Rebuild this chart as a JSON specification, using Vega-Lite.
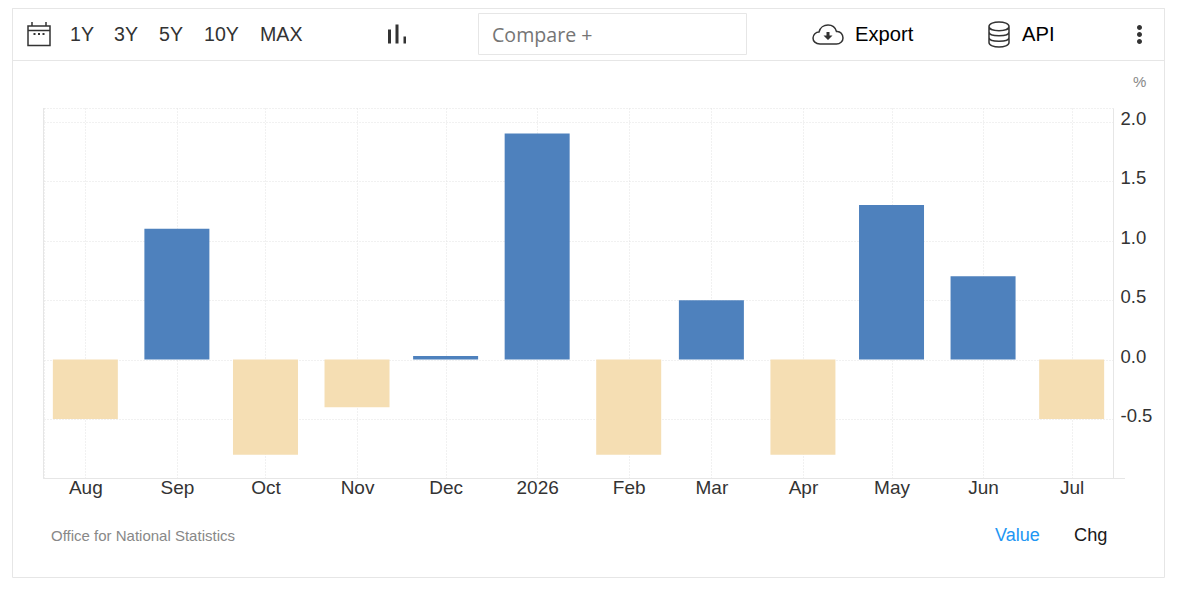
{
  "$schema": "https://vega.github.io/schema/vega-lite/v6.json",
  "width": 1069,
  "height": 370,
  "padding": {"left": 44, "top": 108, "right": 66, "bottom": 117},
  "autosize": {"type": "none"},
  "background": "white",
  "datasets": {
    "chg": [
      {"month": "2025-08-01T00:00:00", "value": -0.5},
      {"month": "2025-09-01T00:00:00", "value": 1.1},
      {"month": "2025-10-01T00:00:00", "value": -0.8},
      {"month": "2025-11-01T00:00:00", "value": -0.4},
      {"month": "2025-12-01T00:00:00", "value": 0.03},
      {"month": "2026-01-01T00:00:00", "value": 1.9},
      {"month": "2026-02-01T00:00:00", "value": -0.8},
      {"month": "2026-03-01T00:00:00", "value": 0.5},
      {"month": "2026-04-01T00:00:00", "value": -0.8},
      {"month": "2026-05-01T00:00:00", "value": 1.3},
      {"month": "2026-06-01T00:00:00", "value": 0.7},
      {"month": "2026-07-01T00:00:00", "value": -0.5}
    ],
    "labels": [
      {"label": "1Y", "slot": 1, "zone": 0, "kind": "range"},
      {"label": "3Y", "slot": 2, "zone": 0, "kind": "range"},
      {"label": "5Y", "slot": 3, "zone": 0, "kind": "range"},
      {"label": "10Y", "slot": 4, "zone": 0, "kind": "range"},
      {"label": "MAX", "slot": 5, "zone": 0, "kind": "range"},
      {"label": "Export", "slot": 6, "zone": 0, "kind": "action"},
      {"label": "Value", "slot": 7, "zone": 1, "kind": "link"},
      {"label": "API", "slot": 8, "zone": 0, "kind": "action"},
      {"label": "Chg", "slot": 9, "zone": 1, "kind": "chg"}
    ],
    "notes": [
      {"label": "Office for National Statistics", "slot": 0, "zone": 1},
      {"label": "%", "slot": 1, "zone": 0}
    ],
    "boxes": [
      {"l": 0, "r": 5, "t": 0, "b": 6},
      {"l": 0, "r": 5, "t": 0, "b": 3},
      {"l": 2, "r": 3, "t": 1, "b": 2},
      {"l": 1, "r": 1, "t": 4, "b": 5},
      {"l": 1, "r": 4, "t": 5, "b": 5}
    ],
    "lineIcons": [
      {"icon": "calendar", "slot": 0},
      {"icon": "cloud", "slot": 1},
      {"icon": "database", "slot": 2}
    ],
    "solidIcons": [
      {"icon": "calendarDots", "slot": 0},
      {"icon": "bars", "slot": 1},
      {"icon": "cloudArrow", "slot": 2},
      {"icon": "more", "slot": 3}
    ]
  },
  "resolve": {"scale": {"x": "independent", "y": "independent", "color": "independent", "shape": "independent", "size": "independent"}},
  "layer": [
    {
      "data": {"name": "boxes"},
      "mark": {"type": "rect", "fill": null, "stroke": "#e6e6e6", "strokeWidth": 1},
      "encoding": {
        "x": {"field": "l", "type": "quantitative", "axis": null, "scale": {"domain": [0, 1, 2, 3, 4, 5], "range": [-31.5, -0.5, 434.5, 702.5, 1081, 1120.5]}},
        "x2": {"field": "r"},
        "y": {"field": "t", "type": "quantitative", "axis": null, "scale": {"domain": [0, 1, 2, 3, 4, 5, 6], "range": [-99.5, -94.5, -53.5, -47.5, 0, 370.5, 469.5]}},
        "y2": {"field": "b"}
      }
    },
    {
      "data": {"name": "chg"},
      "mark": {"type": "bar", "size": 65},
      "encoding": {
        "x": {
          "field": "month",
          "type": "temporal",
          "scale": {"domain": ["2025-07-18T00:00:00", "2026-07-15T00:00:00"], "padding": 0},
          "axis": {
            "values": ["2025-08-01T00:00:00", "2025-09-01T00:00:00", "2025-10-01T00:00:00", "2025-11-01T00:00:00", "2025-12-01T00:00:00", "2026-01-01T00:00:00", "2026-02-01T00:00:00", "2026-03-01T00:00:00", "2026-04-01T00:00:00", "2026-05-01T00:00:00", "2026-06-01T00:00:00", "2026-07-01T00:00:00"],
            "labelExpr": "month(datum.value) == 0 ? timeFormat(datum.value, '%Y') : timeFormat(datum.value, '%b')",
            "title": null,
            "ticks": false,
            "labelFont": "Liberation Sans",
            "labelFontSize": 19,
            "labelColor": "#333333",
            "labelPadding": 0.5,
            "labelFlush": false,
            "labelOverlap": false,
            "domain": false,
            "grid": true,
            "gridColor": "#e2e2e2",
            "gridDash": [1, 2]
          }
        },
        "y": {
          "field": "value",
          "type": "quantitative",
          "scale": {"domain": [-0.995, 2.115], "nice": false},
          "axis": {
            "orient": "right",
            "values": [-0.5, 0, 0.5, 1, 1.5, 2],
            "labelExpr": "replace(format(datum.value, '.1f'), '\u2212', '-')",
            "title": null,
            "ticks": false,
            "labelFont": "Liberation Sans",
            "labelFontSize": 18.5,
            "labelColor": "#333333",
            "labelPadding": 7,
            "labelOffset": -3.5,
            "domainColor": "#e6e6e6",
            "grid": true,
            "gridColor": "#e2e2e2",
            "gridDash": [1, 2]
          }
        },
        "color": {
          "field": "value",
          "type": "quantitative",
          "legend": null,
          "scale": {"type": "threshold", "domain": [0], "range": ["#f5deb3", "#4e81bd"]}
        }
      }
    },
    {
      "data": {"name": "labels"},
      "mark": {"type": "text", "align": "left", "baseline": "middle", "font": "Liberation Sans"},
      "encoding": {
        "text": {"field": "label"},
        "x": {"field": "slot", "type": "quantitative", "axis": null, "scale": {"domain": [1, 2, 3, 4, 5, 6, 7, 8, 9], "range": [26, 70, 115, 160, 216, 811, 951, 978, 1030]}},
        "y": {"field": "zone", "type": "quantitative", "axis": null, "scale": {"domain": [0, 1], "range": [-73, 428]}},
        "color": {"field": "kind", "type": "nominal", "legend": null, "scale": {"domain": ["range", "action", "link", "chg"], "range": ["#333333", "#000000", "#2196f3", "#1a1a1a"]}},
        "size": {"field": "kind", "type": "nominal", "legend": null, "scale": {"type": "ordinal", "domain": ["range", "action", "link", "chg"], "range": [19.6, 20.2, 18, 18.2]}}
      }
    },
    {
      "data": {"values": [{"label": "Compare +", "slot": 0}]},
      "mark": {"type": "text", "align": "left", "baseline": "middle", "font": "Open Sans", "fontSize": 19.6, "color": "#757575"},
      "encoding": {
        "text": {"field": "label"},
        "x": {"field": "slot", "type": "quantitative", "axis": null, "scale": {"domain": [0, 1], "range": [448, 449]}},
        "y": {"field": "slot", "type": "quantitative", "axis": null, "scale": {"domain": [0, 1], "range": [-72.5, -71.5]}}
      }
    },
    {
      "data": {"name": "notes"},
      "mark": {"type": "text", "align": "left", "baseline": "middle", "font": "Liberation Sans", "fontSize": 15, "color": "#888888"},
      "encoding": {
        "text": {"field": "label"},
        "x": {"field": "slot", "type": "quantitative", "axis": null, "scale": {"domain": [0, 1], "range": [7, 1089]}},
        "y": {"field": "zone", "type": "quantitative", "axis": null, "scale": {"domain": [0, 1], "range": [-26, 428]}}
      }
    },
    {
      "data": {"name": "lineIcons"},
      "mark": {"type": "point", "filled": false, "stroke": "#333333", "strokeWidth": 1.5, "opacity": 1, "size": 4},
      "encoding": {
        "x": {"field": "slot", "type": "quantitative", "axis": null, "scale": {"domain": [0, 1, 2], "range": [-5, 784, 955]}},
        "y": {"value": -73.5},
        "shape": {
          "field": "icon",
          "type": "nominal",
          "legend": null,
          "scale": {
            "domain": ["calendar", "cloud", "database"],
            "range": [
              "M-11-8.5H11V11H-11ZM-11-4H11M-7-12.5V-8.5M7-12.5V-8.5",
              "M-8 9.5C-12.5 9.5 -15 6.5 -15 3.5C-15 0 -12 -2.5 -9 -2.5C-8 -7 -4 -9.5 0 -9.5C4.5 -9.5 7.5 -6.5 8.5 -3C12.5 -3.5 15 0 15 3.5C15 7 12 9.5 8.5 9.5Z",
              "M-10 -8C-10 -14 10 -14 10 -8C10 -2.5 -10 -2.5 -10 -8ZM-10 -8V8C-10 14 10 14 10 8V-8M-10 -2.5C-10 2.5 10 2.5 10 -2.5M-10 3C-10 8 10 8 10 3"
            ]
          }
        }
      }
    },
    {
      "data": {"name": "solidIcons"},
      "mark": {"type": "point", "filled": true, "fill": "#333333", "opacity": 1, "size": 4},
      "encoding": {
        "x": {"field": "slot", "type": "quantitative", "axis": null, "scale": {"domain": [0, 1, 2, 3], "range": [-5, 352.5, 784, 1095.5]}},
        "y": {"value": -73.5},
        "shape": {
          "field": "icon",
          "type": "nominal",
          "legend": null,
          "scale": {
            "domain": ["calendarDots", "bars", "cloudArrow", "more"],
            "range": [
              "M-5.5 -1.5H-3.5V0.5H-5.5ZM-1 -1.5H1V0.5H-1ZM3.5 -1.5H5.5V0.5H3.5Z",
              "M-8.5 -5H-5.5V9H-8.5ZM-1 -10H2V9H-1ZM7 2H9.5V9H7Z",
              "M-1.5 -2.5H1.5V1H4.5L0 5.5L-4.5 1H-1.5Z",
              "M-2.5 -7a2.5 2.5 0 1 0 5 0a2.5 2.5 0 1 0 -5 0ZM-2.5 0a2.5 2.5 0 1 0 5 0a2.5 2.5 0 1 0 -5 0ZM-2.5 7a2.5 2.5 0 1 0 5 0a2.5 2.5 0 1 0 -5 0Z"
            ]
          }
        }
      }
    }
  ],
  "config": {"view": {"stroke": "#e2e2e2", "strokeDash": [1, 2]}}
}
